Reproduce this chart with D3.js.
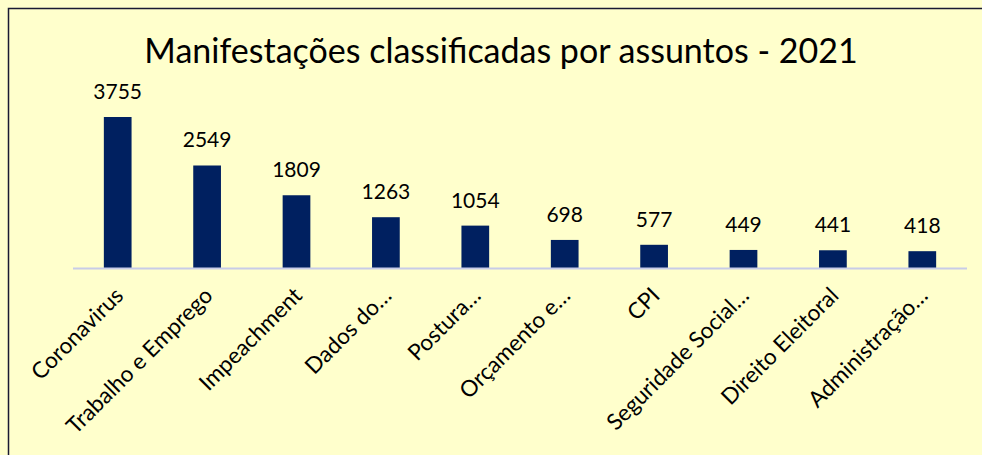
<!DOCTYPE html>
<html>
<head>
<meta charset="utf-8">
<script src="https://cdn.jsdelivr.net/npm/d3@7"></script>
<style>
  body { margin: 0; background: #FFFFCC; }
  svg { display: block; }
  text { font-family: Lato, "Open Sans", sans-serif; fill: #000; }
</style>
</head>
<body>
<svg width="982" height="455"></svg>
<script>
const assuntos = ["Coronavirus", "Trabalho e Emprego", "Impeachment", "Dados do…", "Postura…",
    "Orçamento e…", "CPI", "Seguridade Social…", "Direito Eleitoral", "Administração…"];
const manifestacoes = [3755, 2549, 1809, 1263, 1054, 698, 577, 449, 441, 418];
const titulo = "Manifestações classificadas por assuntos - 2021";

const svg = d3.select("svg"),
    margin = { left: 73, right: 15, top: 117, base: 268 };
const width = +svg.attr("width");

svg.append("rect").attr("width", width).attr("height", 455).attr("fill", "#FFFFCC");

// frame of the chart area (runs off the right and bottom of the picture)
svg.append("path")
    .attr("d", `M8.5,455 V8.5 H${width}`)
    .attr("fill", "none")
    .attr("stroke", "#1a1a33")
    .attr("stroke-width", 1.5);

const x = d3.scaleBand()
    .domain(assuntos)
    .range([margin.left, width - margin.right])
    .paddingInner(0.69)
    .paddingOuter(0.345);

const y = d3.scaleLinear()
    .domain([0, d3.max(manifestacoes)])
    .range([margin.base, margin.top]);

svg.append("text")
    .attr("x", 501)
    .attr("y", 63)
    .attr("text-anchor", "middle")
    .style("font-size", "34px")
    .text(titulo);

const data = assuntos.map((a, i) => ({ a, v: manifestacoes[i] }));

svg.selectAll("rect.bar")
    .data(data)
    .enter()
    .append("rect")
    .attr("class", "bar")
    .attr("x", d => x(d.a))
    .attr("y", d => y(d.v))
    .attr("width", x.bandwidth())
    .attr("height", d => y(0) - y(d.v))
    .attr("fill", "#002060");

// baseline
svg.append("line")
    .attr("x1", margin.left).attr("x2", width - margin.right)
    .attr("y1", y(0) + 0.5).attr("y2", y(0) + 0.5)
    .attr("stroke", "#C8CCE8")
    .attr("stroke-width", 2);

svg.selectAll("text.valor")
    .data(data)
    .enter()
    .append("text")
    .attr("class", "valor")
    .attr("x", d => x(d.a) + x.bandwidth() / 2)
    .attr("y", d => y(d.v) - 18)
    .attr("text-anchor", "middle")
    .style("font-size", "21px")
    .text(d => d.v);

svg.selectAll("text.cat")
    .data(data)
    .enter()
    .append("text")
    .attr("class", "cat")
    .attr("text-anchor", "end")
    .attr("transform", d => `translate(${x(d.a) + x.bandwidth() / 2 + 7},297) rotate(-45)`)
    .style("font-size", "22.5px")
    .text(d => d.a);
</script>
</body>
</html>
